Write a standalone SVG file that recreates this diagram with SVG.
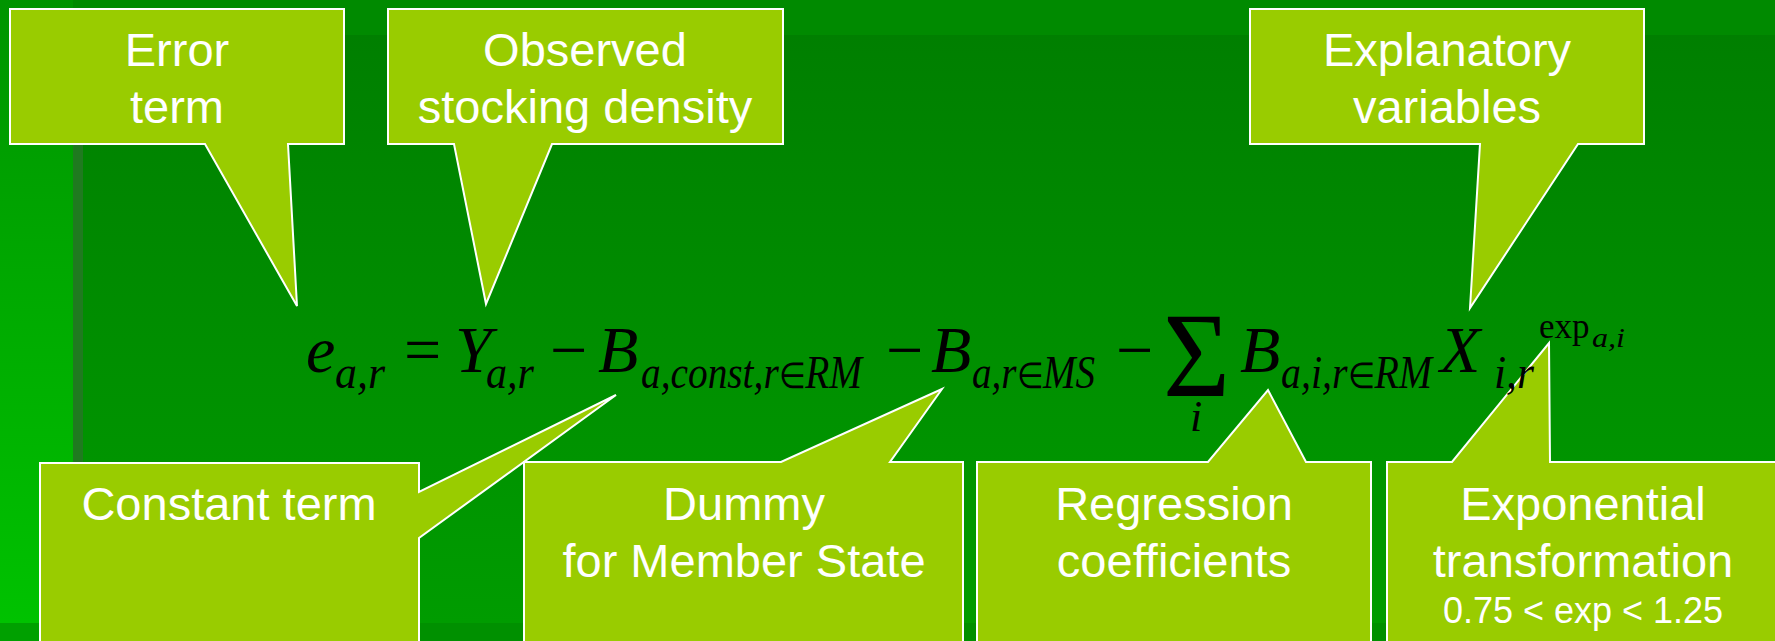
<svg xmlns="http://www.w3.org/2000/svg" width="1775" height="641" viewBox="0 0 1775 641">
<defs>
<linearGradient id="gMain" x1="0" y1="35" x2="0" y2="623" gradientUnits="userSpaceOnUse">
<stop offset="0" stop-color="#007f00"/>
<stop offset="1" stop-color="#009c00"/>
</linearGradient>
<linearGradient id="gLeft" x1="0" y1="0" x2="0" y2="623" gradientUnits="userSpaceOnUse">
<stop offset="0" stop-color="#009400"/>
<stop offset="1" stop-color="#00c200"/>
</linearGradient>
<style>
.co{fill:#99cc00;stroke:#ffffff;stroke-width:2;stroke-linejoin:miter}
.lb{font-family:"Liberation Sans",Arial,sans-serif;font-size:47px;fill:#ffffff;text-anchor:middle}
.sm{font-size:36px}
.m{font-family:"Liberation Serif","Times New Roman",serif;fill:#000000}
.it{font-style:italic}
.big{font-size:66px}
.sub{font-size:46px}
.el{font-style:normal;font-size:36px}
</style>
</defs>
<g id="background">
<rect x="0" y="0" width="1775" height="641" fill="url(#gMain)"/>
<rect x="0" y="0" width="1775" height="35" fill="#008a00"/>
<rect x="0" y="623" width="1775" height="18" fill="#009000"/>
<rect x="0" y="0" width="73" height="623" fill="url(#gLeft)"/>
<rect x="0" y="623" width="73" height="18" fill="#00a000"/>
<rect x="73" y="35" width="10" height="588" fill="#1f7a1f"/>
</g>
<g id="connectors"/>
<g id="node-error">
<path class="co" d="M10,9 H344 V144 H288 L297,306 L205,144 H10 Z"/>
<text class="lb" x="177" y="66">Error</text>
<text class="lb" x="177" y="123">term</text>
</g>
<g id="node-observed">
<path class="co" d="M388,9 H783 V144 H552 L486,304 L454,144 H388 Z"/>
<text class="lb" x="585" y="66">Observed</text>
<text class="lb" x="585" y="123">stocking density</text>
</g>
<g id="node-explanatory">
<path class="co" d="M1250,9 H1644 V144 H1578 L1470,308 L1480,144 H1250 Z"/>
<text class="lb" x="1447" y="66">Explanatory</text>
<text class="lb" x="1447" y="123">variables</text>
</g>
<g id="node-constant">
<path class="co" d="M40,463 H419 V492 L616,395 L419,538 V650 H40 Z"/>
<text class="lb" x="229" y="520">Constant term</text>
</g>
<g id="node-dummy">
<path class="co" d="M524,462 H781 L942,389 L890,462 H963 V650 H524 Z"/>
<text class="lb" x="744" y="520">Dummy</text>
<text class="lb" x="744" y="577">for Member State</text>
</g>
<g id="node-regression">
<path class="co" d="M977,462 H1208 L1268,390 L1306,462 H1371 V650 H977 Z"/>
<text class="lb" x="1174" y="520">Regression</text>
<text class="lb" x="1174" y="577">coefficients</text>
</g>
<g id="node-exponential">
<path class="co" d="M1387,462 H1452 L1549,343 L1550,462 H1785 V650 H1387 Z"/>
<text class="lb" x="1583" y="520">Exponential</text>
<text class="lb" x="1583" y="577">transformation</text>
<text class="lb sm" x="1583" y="623">0.75 &lt; exp &lt; 1.25</text>
</g>
<g id="formula" class="m">
<text class="big it" x="306" y="372">e</text>
<text class="sub it" x="335" y="388" textLength="50" lengthAdjust="spacingAndGlyphs">a,r</text>
<text class="big" x="404" y="372">=</text>
<text class="big it" x="455" y="372">Y</text>
<text class="sub it" x="486" y="388" textLength="48" lengthAdjust="spacingAndGlyphs">a,r</text>
<text class="big" x="550" y="372">−</text>
<text class="big it" x="598" y="372">B</text>
<text class="sub it" x="641" y="388" textLength="221" lengthAdjust="spacingAndGlyphs">a,const,r<tspan class="el">∈</tspan>RM</text>
<text class="big" x="886" y="372">−</text>
<text class="big it" x="931" y="372">B</text>
<text class="sub it" x="972" y="388" textLength="123" lengthAdjust="spacingAndGlyphs">a,r<tspan class="el">∈</tspan>MS</text>
<text class="big" x="1116" y="372">−</text>
<text x="1163" y="396" font-size="120" textLength="67" lengthAdjust="spacingAndGlyphs">Σ</text>
<text class="it" x="1190" y="431" font-size="44">i</text>
<text class="big it" x="1240" y="372">B</text>
<text class="sub it" x="1281" y="388" textLength="151" lengthAdjust="spacingAndGlyphs">a,i,r<tspan class="el">∈</tspan>RM</text>
<text class="big it" x="1440" y="372">X</text>
<text class="sub it" x="1494" y="388" textLength="40" lengthAdjust="spacingAndGlyphs">i,r</text>
<text x="1539" y="338" font-size="35">exp</text>
<text class="it" x="1592" y="347" font-size="28" textLength="33" lengthAdjust="spacingAndGlyphs">a,i</text>
</g>
</svg>
